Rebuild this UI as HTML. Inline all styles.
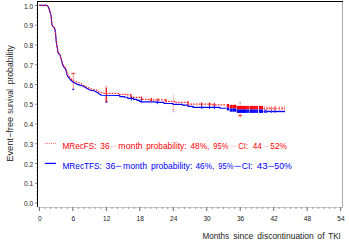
<!DOCTYPE html>
<html><head><meta charset="utf-8"><style>
html,body{margin:0;padding:0;background:#fff;}
svg{display:block}
text{font-family:"Liberation Sans",sans-serif;}
.ty{font-size:6.6px;fill:#222}
.tx{fill:#222}
.tyt{fill:#222}
</style></head><body>
<svg width="349" height="244" viewBox="0 0 349 244">
<line x1="37" y1="1.5" x2="343" y2="1.5" stroke="#000" stroke-width="1"/>
<line x1="37.5" y1="1" x2="37.5" y2="207" stroke="#000" stroke-width="1"/>
<line x1="342.5" y1="2" x2="342.5" y2="207.5" stroke="#aaa" stroke-width="1"/>
<line x1="38" y1="207.5" x2="343" y2="207.5" stroke="#c8c8c8" stroke-width="1"/>
<line x1="35" y1="203.00" x2="37" y2="203.00" stroke="#888" stroke-width="1"/>
<text x="33.2" y="206.10" text-anchor="end" class="ty">0.0</text>
<line x1="36" y1="199.05" x2="37" y2="199.05" stroke="#ccc" stroke-width="1"/>
<line x1="36" y1="195.10" x2="37" y2="195.10" stroke="#ccc" stroke-width="1"/>
<line x1="36" y1="191.15" x2="37" y2="191.15" stroke="#ccc" stroke-width="1"/>
<line x1="36" y1="187.20" x2="37" y2="187.20" stroke="#ccc" stroke-width="1"/>
<line x1="35" y1="183.25" x2="37" y2="183.25" stroke="#888" stroke-width="1"/>
<text x="33.2" y="186.35" text-anchor="end" class="ty">0.1</text>
<line x1="36" y1="179.30" x2="37" y2="179.30" stroke="#ccc" stroke-width="1"/>
<line x1="36" y1="175.35" x2="37" y2="175.35" stroke="#ccc" stroke-width="1"/>
<line x1="36" y1="171.40" x2="37" y2="171.40" stroke="#ccc" stroke-width="1"/>
<line x1="36" y1="167.45" x2="37" y2="167.45" stroke="#ccc" stroke-width="1"/>
<line x1="35" y1="163.50" x2="37" y2="163.50" stroke="#888" stroke-width="1"/>
<text x="33.2" y="166.60" text-anchor="end" class="ty">0.2</text>
<line x1="36" y1="159.55" x2="37" y2="159.55" stroke="#ccc" stroke-width="1"/>
<line x1="36" y1="155.60" x2="37" y2="155.60" stroke="#ccc" stroke-width="1"/>
<line x1="36" y1="151.65" x2="37" y2="151.65" stroke="#ccc" stroke-width="1"/>
<line x1="36" y1="147.70" x2="37" y2="147.70" stroke="#ccc" stroke-width="1"/>
<line x1="35" y1="143.75" x2="37" y2="143.75" stroke="#888" stroke-width="1"/>
<text x="33.2" y="146.85" text-anchor="end" class="ty">0.3</text>
<line x1="36" y1="139.80" x2="37" y2="139.80" stroke="#ccc" stroke-width="1"/>
<line x1="36" y1="135.85" x2="37" y2="135.85" stroke="#ccc" stroke-width="1"/>
<line x1="36" y1="131.90" x2="37" y2="131.90" stroke="#ccc" stroke-width="1"/>
<line x1="36" y1="127.95" x2="37" y2="127.95" stroke="#ccc" stroke-width="1"/>
<line x1="35" y1="124.00" x2="37" y2="124.00" stroke="#888" stroke-width="1"/>
<text x="33.2" y="127.10" text-anchor="end" class="ty">0.4</text>
<line x1="36" y1="120.05" x2="37" y2="120.05" stroke="#ccc" stroke-width="1"/>
<line x1="36" y1="116.10" x2="37" y2="116.10" stroke="#ccc" stroke-width="1"/>
<line x1="36" y1="112.15" x2="37" y2="112.15" stroke="#ccc" stroke-width="1"/>
<line x1="36" y1="108.20" x2="37" y2="108.20" stroke="#ccc" stroke-width="1"/>
<line x1="35" y1="104.25" x2="37" y2="104.25" stroke="#888" stroke-width="1"/>
<text x="33.2" y="107.35" text-anchor="end" class="ty">0.5</text>
<line x1="36" y1="100.30" x2="37" y2="100.30" stroke="#ccc" stroke-width="1"/>
<line x1="36" y1="96.35" x2="37" y2="96.35" stroke="#ccc" stroke-width="1"/>
<line x1="36" y1="92.40" x2="37" y2="92.40" stroke="#ccc" stroke-width="1"/>
<line x1="36" y1="88.45" x2="37" y2="88.45" stroke="#ccc" stroke-width="1"/>
<line x1="35" y1="84.50" x2="37" y2="84.50" stroke="#888" stroke-width="1"/>
<text x="33.2" y="87.60" text-anchor="end" class="ty">0.6</text>
<line x1="36" y1="80.55" x2="37" y2="80.55" stroke="#ccc" stroke-width="1"/>
<line x1="36" y1="76.60" x2="37" y2="76.60" stroke="#ccc" stroke-width="1"/>
<line x1="36" y1="72.65" x2="37" y2="72.65" stroke="#ccc" stroke-width="1"/>
<line x1="36" y1="68.70" x2="37" y2="68.70" stroke="#ccc" stroke-width="1"/>
<line x1="35" y1="64.75" x2="37" y2="64.75" stroke="#888" stroke-width="1"/>
<text x="33.2" y="67.85" text-anchor="end" class="ty">0.7</text>
<line x1="36" y1="60.80" x2="37" y2="60.80" stroke="#ccc" stroke-width="1"/>
<line x1="36" y1="56.85" x2="37" y2="56.85" stroke="#ccc" stroke-width="1"/>
<line x1="36" y1="52.90" x2="37" y2="52.90" stroke="#ccc" stroke-width="1"/>
<line x1="36" y1="48.95" x2="37" y2="48.95" stroke="#ccc" stroke-width="1"/>
<line x1="35" y1="45.00" x2="37" y2="45.00" stroke="#888" stroke-width="1"/>
<text x="33.2" y="48.10" text-anchor="end" class="ty">0.8</text>
<line x1="36" y1="41.05" x2="37" y2="41.05" stroke="#ccc" stroke-width="1"/>
<line x1="36" y1="37.10" x2="37" y2="37.10" stroke="#ccc" stroke-width="1"/>
<line x1="36" y1="33.15" x2="37" y2="33.15" stroke="#ccc" stroke-width="1"/>
<line x1="36" y1="29.20" x2="37" y2="29.20" stroke="#ccc" stroke-width="1"/>
<line x1="35" y1="25.25" x2="37" y2="25.25" stroke="#888" stroke-width="1"/>
<text x="33.2" y="28.35" text-anchor="end" class="ty">0.9</text>
<line x1="36" y1="21.30" x2="37" y2="21.30" stroke="#ccc" stroke-width="1"/>
<line x1="36" y1="17.35" x2="37" y2="17.35" stroke="#ccc" stroke-width="1"/>
<line x1="36" y1="13.40" x2="37" y2="13.40" stroke="#ccc" stroke-width="1"/>
<line x1="36" y1="9.45" x2="37" y2="9.45" stroke="#ccc" stroke-width="1"/>
<line x1="35" y1="5.50" x2="37" y2="5.50" stroke="#888" stroke-width="1"/>
<text x="33.2" y="8.60" text-anchor="end" class="ty">1.0</text>
<line x1="39.40" y1="207" x2="39.40" y2="211" stroke="#666" stroke-width="1"/>
<text x="39.80" y="220.6" text-anchor="middle" class="ty">0</text>
<line x1="44.98" y1="207" x2="44.98" y2="209" stroke="#999" stroke-width="1"/>
<line x1="50.56" y1="207" x2="50.56" y2="209" stroke="#999" stroke-width="1"/>
<line x1="56.13" y1="207" x2="56.13" y2="209" stroke="#999" stroke-width="1"/>
<line x1="61.71" y1="207" x2="61.71" y2="209" stroke="#999" stroke-width="1"/>
<line x1="67.29" y1="207" x2="67.29" y2="209" stroke="#999" stroke-width="1"/>
<line x1="72.87" y1="207" x2="72.87" y2="211" stroke="#666" stroke-width="1"/>
<text x="73.27" y="220.6" text-anchor="middle" class="ty">6</text>
<line x1="78.45" y1="207" x2="78.45" y2="209" stroke="#999" stroke-width="1"/>
<line x1="84.02" y1="207" x2="84.02" y2="209" stroke="#999" stroke-width="1"/>
<line x1="89.60" y1="207" x2="89.60" y2="209" stroke="#999" stroke-width="1"/>
<line x1="95.18" y1="207" x2="95.18" y2="209" stroke="#999" stroke-width="1"/>
<line x1="100.76" y1="207" x2="100.76" y2="209" stroke="#999" stroke-width="1"/>
<line x1="106.34" y1="207" x2="106.34" y2="211" stroke="#666" stroke-width="1"/>
<text x="106.74" y="220.6" text-anchor="middle" class="ty">12</text>
<line x1="111.91" y1="207" x2="111.91" y2="209" stroke="#999" stroke-width="1"/>
<line x1="117.49" y1="207" x2="117.49" y2="209" stroke="#999" stroke-width="1"/>
<line x1="123.07" y1="207" x2="123.07" y2="209" stroke="#999" stroke-width="1"/>
<line x1="128.65" y1="207" x2="128.65" y2="209" stroke="#999" stroke-width="1"/>
<line x1="134.23" y1="207" x2="134.23" y2="209" stroke="#999" stroke-width="1"/>
<line x1="139.80" y1="207" x2="139.80" y2="211" stroke="#666" stroke-width="1"/>
<text x="140.20" y="220.6" text-anchor="middle" class="ty">18</text>
<line x1="145.38" y1="207" x2="145.38" y2="209" stroke="#999" stroke-width="1"/>
<line x1="150.96" y1="207" x2="150.96" y2="209" stroke="#999" stroke-width="1"/>
<line x1="156.54" y1="207" x2="156.54" y2="209" stroke="#999" stroke-width="1"/>
<line x1="162.12" y1="207" x2="162.12" y2="209" stroke="#999" stroke-width="1"/>
<line x1="167.69" y1="207" x2="167.69" y2="209" stroke="#999" stroke-width="1"/>
<line x1="173.27" y1="207" x2="173.27" y2="211" stroke="#666" stroke-width="1"/>
<text x="173.67" y="220.6" text-anchor="middle" class="ty">24</text>
<line x1="178.85" y1="207" x2="178.85" y2="209" stroke="#999" stroke-width="1"/>
<line x1="184.43" y1="207" x2="184.43" y2="209" stroke="#999" stroke-width="1"/>
<line x1="190.01" y1="207" x2="190.01" y2="209" stroke="#999" stroke-width="1"/>
<line x1="195.58" y1="207" x2="195.58" y2="209" stroke="#999" stroke-width="1"/>
<line x1="201.16" y1="207" x2="201.16" y2="209" stroke="#999" stroke-width="1"/>
<line x1="206.74" y1="207" x2="206.74" y2="211" stroke="#666" stroke-width="1"/>
<text x="207.14" y="220.6" text-anchor="middle" class="ty">30</text>
<line x1="212.32" y1="207" x2="212.32" y2="209" stroke="#999" stroke-width="1"/>
<line x1="217.90" y1="207" x2="217.90" y2="209" stroke="#999" stroke-width="1"/>
<line x1="223.47" y1="207" x2="223.47" y2="209" stroke="#999" stroke-width="1"/>
<line x1="229.05" y1="207" x2="229.05" y2="209" stroke="#999" stroke-width="1"/>
<line x1="234.63" y1="207" x2="234.63" y2="209" stroke="#999" stroke-width="1"/>
<line x1="240.21" y1="207" x2="240.21" y2="211" stroke="#666" stroke-width="1"/>
<text x="240.61" y="220.6" text-anchor="middle" class="ty">36</text>
<line x1="245.79" y1="207" x2="245.79" y2="209" stroke="#999" stroke-width="1"/>
<line x1="251.36" y1="207" x2="251.36" y2="209" stroke="#999" stroke-width="1"/>
<line x1="256.94" y1="207" x2="256.94" y2="209" stroke="#999" stroke-width="1"/>
<line x1="262.52" y1="207" x2="262.52" y2="209" stroke="#999" stroke-width="1"/>
<line x1="268.10" y1="207" x2="268.10" y2="209" stroke="#999" stroke-width="1"/>
<line x1="273.68" y1="207" x2="273.68" y2="211" stroke="#666" stroke-width="1"/>
<text x="274.08" y="220.6" text-anchor="middle" class="ty">42</text>
<line x1="279.25" y1="207" x2="279.25" y2="209" stroke="#999" stroke-width="1"/>
<line x1="284.83" y1="207" x2="284.83" y2="209" stroke="#999" stroke-width="1"/>
<line x1="290.41" y1="207" x2="290.41" y2="209" stroke="#999" stroke-width="1"/>
<line x1="295.99" y1="207" x2="295.99" y2="209" stroke="#999" stroke-width="1"/>
<line x1="301.57" y1="207" x2="301.57" y2="209" stroke="#999" stroke-width="1"/>
<line x1="307.14" y1="207" x2="307.14" y2="211" stroke="#666" stroke-width="1"/>
<text x="307.54" y="220.6" text-anchor="middle" class="ty">48</text>
<line x1="312.72" y1="207" x2="312.72" y2="209" stroke="#999" stroke-width="1"/>
<line x1="318.30" y1="207" x2="318.30" y2="209" stroke="#999" stroke-width="1"/>
<line x1="323.88" y1="207" x2="323.88" y2="209" stroke="#999" stroke-width="1"/>
<line x1="329.46" y1="207" x2="329.46" y2="209" stroke="#999" stroke-width="1"/>
<line x1="335.03" y1="207" x2="335.03" y2="209" stroke="#999" stroke-width="1"/>
<line x1="340.61" y1="207" x2="340.61" y2="211" stroke="#666" stroke-width="1"/>
<text x="341.01" y="220.6" text-anchor="middle" class="ty">54</text>
<text x="202.54" y="238.9" class="tx" font-size="9.8" textLength="26.64" lengthAdjust="spacingAndGlyphs">Months</text>
<text x="233.28" y="238.9" class="tx" font-size="9.8" textLength="20.05" lengthAdjust="spacingAndGlyphs">since</text>
<text x="257.36" y="238.9" class="tx" font-size="9.8" textLength="56.34" lengthAdjust="spacingAndGlyphs">discontinuation</text>
<text x="317.35" y="238.9" class="tx" font-size="9.8" textLength="7.23" lengthAdjust="spacingAndGlyphs">of</text>
<text x="328.23" y="238.9" class="tx" font-size="9.8" textLength="12.61" lengthAdjust="spacingAndGlyphs">TKI</text>
<g transform="translate(12.7,0) rotate(-90)"><text x="-161.73" y="0" class="tyt" font-size="8.8" textLength="44.91" lengthAdjust="spacingAndGlyphs">Event−free</text><text x="-113.66" y="0" class="tyt" font-size="8.8" textLength="24.60" lengthAdjust="spacingAndGlyphs">survival</text><text x="-84.34" y="0" class="tyt" font-size="8.8" textLength="39.25" lengthAdjust="spacingAndGlyphs">probability</text></g>
<line x1="73.3" y1="73.4" x2="73.3" y2="89.4" stroke="#f88" stroke-width="1"/>
<line x1="71.3" y1="73.4" x2="75.2" y2="73.4" stroke="#f22" stroke-width="1"/>
<line x1="72.3" y1="89.4" x2="74.3" y2="89.4" stroke="#00f" stroke-width="1.2"/>
<line x1="106.3" y1="87.5" x2="106.3" y2="101.2" stroke="#f22" stroke-width="1.4"/>
<line x1="106.3" y1="86.4" x2="106.3" y2="87.5" stroke="#fbb" stroke-width="1.0"/>
<line x1="105.4" y1="86.4" x2="107.4" y2="86.4" stroke="#f99" stroke-width="1"/>
<line x1="105.1" y1="101.2" x2="107.6" y2="101.2" stroke="#f22" stroke-width="1.0"/>
<line x1="105.4" y1="102.2" x2="107.4" y2="102.2" stroke="#00f" stroke-width="1.0"/>
<line x1="173.4" y1="94.5" x2="173.4" y2="111.7" stroke="#fbb" stroke-width="1"/>
<line x1="172.4" y1="109.5" x2="174.4" y2="109.5" stroke="#f99" stroke-width="1"/>
<line x1="172.4" y1="111.7" x2="174.4" y2="111.7" stroke="#aaf" stroke-width="1"/>
<line x1="240.2" y1="101" x2="240.2" y2="118" stroke="#fbb" stroke-width="1"/>
<line x1="239.2" y1="103.3" x2="241.2" y2="103.3" stroke="#aaf" stroke-width="1"/>
<line x1="238.4" y1="115.5" x2="241.8" y2="115.5" stroke="#f22" stroke-width="1.2"/>
<polyline points="39.2,5.4 46.9,5.4 48.3,6.9 49.3,9.4 50.0,11.8 50.8,14.8 51.3,17.7 51.6,21.7 51.9,24.5 52.9,26.4 54.4,27.9 55.0,29.9 55.5,32.8 55.8,36.7 56.3,41.7 56.8,45.6 57.4,47.9 57.7,51.4 58.8,53.8 59.8,54.3 60.6,57.3 61.6,60.2 62.3,63.7 63.4,66.4 65.4,68.9 66.4,71.8 67.4,75.8 68.8,77.7 70.8,80.2 73.3,82.2 75.7,83.6 79.7,85.1 82.9,86.0 87.2,88.5 90.3,90.3 94.6,90.9 97.7,92.8 100.1,94.6 102.0,95.3 119.8,95.5 119.8,96.6 124.5,96.6 124.5,97.2 127.8,97.2 127.8,98.3 133.5,98.3 133.5,99.3 137.0,99.3 137.0,100.3 139.5,100.3 139.5,101.3 141.5,101.3 141.5,101.8 156.0,101.8 156.0,102.3 164.0,102.3 164.0,103.5 173.0,103.5 173.0,104.3 182.5,104.3 182.5,105.1 188.0,105.1 188.0,106.3 193.0,106.3 193.0,107.3 220.0,107.3 220.0,108.2 226.5,108.2" fill="none" stroke="#00f" stroke-width="1.15" stroke-linejoin="round"/>
<polyline points="39.2,5.4 46.9,5.4 48.3,6.9 49.3,9.4 50.0,11.8 50.8,14.8 51.3,17.7 51.6,21.7 51.9,24.5 52.9,26.4 54.4,27.9 55.0,29.9 55.5,32.8 55.8,36.7 56.3,41.7 56.8,45.6 57.4,47.9 57.7,51.4 58.8,53.8 59.8,54.3 60.6,57.3 61.6,60.2 62.3,63.2 63.6,65.6 65.6,67.9 66.6,70.8 67.6,74.4 69.0,76.4 71.0,78.8 73.3,80.8 77.7,82.4 80.5,83.3 86.6,87.0 92.8,89.5 97.7,90.3 98.9,92.1 103.8,93.3 119.5,93.3 119.5,94.3 126.0,94.3 126.0,94.9 131.5,94.9 131.5,97.3 141.5,97.3 141.5,99.3 150.0,99.3 150.0,99.9 166.0,99.9 166.0,101.3 174.5,101.3 174.5,102.4 188.0,102.4 188.0,104.1 213.0,104.1 213.0,104.8 226.5,104.8" fill="none" stroke="#f22" stroke-width="1.2" stroke-dasharray="1.6,1.2"/>
<rect x="226.8" y="104.0" width="2.4" height="3.5" fill="#f00"/>
<rect x="229.2" y="104.8" width="7.4" height="3.6" fill="#f00"/>
<rect x="236.6" y="105.9" width="26.4" height="3.6" fill="#f00"/>
<rect x="226.8" y="107.5" width="2.4" height="2.9" fill="#00f"/>
<rect x="229.2" y="108.4" width="7.4" height="3.3" fill="#00f"/>
<rect x="236.6" y="109.5" width="26.4" height="3.4" fill="#00f"/>
<rect x="229.2" y="103.8" width="0.9" height="9.2" fill="#fff" opacity="0.7"/>
<rect x="236.3" y="103.8" width="0.6" height="9.2" fill="#fff" opacity="0.6"/>
<rect x="246.6" y="103.8" width="0.6" height="9.2" fill="#fff" opacity="0.3"/>
<rect x="248.9" y="103.8" width="0.7" height="9.2" fill="#fff" opacity="0.8"/>
<rect x="252.8" y="103.8" width="0.6" height="9.2" fill="#fff" opacity="0.3"/>
<rect x="255.7" y="103.8" width="0.6" height="9.2" fill="#fff" opacity="0.35"/>
<rect x="257.9" y="103.8" width="1.1" height="9.2" fill="#fff" opacity="0.8"/>
<rect x="232.2" y="103.8" width="0.8" height="9.2" fill="#fff" opacity="0.3"/>
<line x1="263.5" y1="111.5" x2="285" y2="111.5" stroke="#00f" stroke-width="1.4"/>
<line x1="263.5" y1="108.3" x2="285" y2="108.3" stroke="#f33" stroke-width="1.2" stroke-dasharray="1.4,1.6"/>
<line x1="264.3" y1="106.4" x2="264.3" y2="110.2" stroke="#f66" stroke-width="0.9"/>
<line x1="266.9" y1="106.4" x2="266.9" y2="110.2" stroke="#f66" stroke-width="0.9"/>
<line x1="269.3" y1="106.4" x2="269.3" y2="110.2" stroke="#f66" stroke-width="0.9"/>
<line x1="271.5" y1="106.4" x2="271.5" y2="110.2" stroke="#f66" stroke-width="0.9"/>
<line x1="274.6" y1="106.4" x2="274.6" y2="110.2" stroke="#f66" stroke-width="0.9"/>
<line x1="275.5" y1="106.4" x2="275.5" y2="110.2" stroke="#f66" stroke-width="0.9"/>
<line x1="279.3" y1="106.4" x2="279.3" y2="110.2" stroke="#f66" stroke-width="0.9"/>
<line x1="281.9" y1="106.4" x2="281.9" y2="110.2" stroke="#f66" stroke-width="0.9"/>
<line x1="284.4" y1="106.4" x2="284.4" y2="110.2" stroke="#f66" stroke-width="0.9"/>
<line x1="264.6" y1="109.8" x2="264.6" y2="113" stroke="#33f" stroke-width="0.9"/>
<line x1="265.6" y1="109.8" x2="265.6" y2="113" stroke="#33f" stroke-width="0.9"/>
<line x1="266.6" y1="109.8" x2="266.6" y2="113" stroke="#33f" stroke-width="0.9"/>
<line x1="271.5" y1="109.8" x2="271.5" y2="113" stroke="#33f" stroke-width="0.9"/>
<line x1="275" y1="109.8" x2="275" y2="113" stroke="#33f" stroke-width="0.9"/>
<line x1="130.9" y1="94.3" x2="130.9" y2="97.89999999999999" stroke="#f00" stroke-width="0.9"/>
<line x1="141.4" y1="96.5" x2="141.4" y2="100.1" stroke="#f00" stroke-width="0.9"/>
<line x1="151.5" y1="97.9" x2="151.5" y2="101.5" stroke="#f00" stroke-width="0.9"/>
<line x1="157.9" y1="98.10000000000001" x2="157.9" y2="101.7" stroke="#f00" stroke-width="0.9"/>
<line x1="166" y1="98.8" x2="166" y2="102.39999999999999" stroke="#f00" stroke-width="0.9"/>
<line x1="188" y1="101.10000000000001" x2="188" y2="104.7" stroke="#f00" stroke-width="0.9"/>
<line x1="201.5" y1="102.3" x2="201.5" y2="105.89999999999999" stroke="#f00" stroke-width="0.9"/>
<line x1="209.5" y1="102.4" x2="209.5" y2="106.0" stroke="#f00" stroke-width="0.9"/>
<line x1="214.3" y1="102.8" x2="214.3" y2="106.39999999999999" stroke="#f00" stroke-width="0.9"/>
<line x1="131.4" y1="97.0" x2="131.4" y2="100.6" stroke="#00f" stroke-width="0.9"/>
<line x1="141.2" y1="99.2" x2="141.2" y2="102.8" stroke="#00f" stroke-width="0.9"/>
<line x1="157.4" y1="100.60000000000001" x2="157.4" y2="104.2" stroke="#00f" stroke-width="0.9"/>
<line x1="201.8" y1="105.5" x2="201.8" y2="109.1" stroke="#00f" stroke-width="0.9"/>
<line x1="209.5" y1="105.5" x2="209.5" y2="109.1" stroke="#00f" stroke-width="0.9"/>
<line x1="214.3" y1="105.60000000000001" x2="214.3" y2="109.2" stroke="#00f" stroke-width="0.9"/>
<line x1="44.9" y1="143.4" x2="56" y2="143.4" stroke="#f66" stroke-width="1" stroke-dasharray="1,1"/>
<line x1="44.9" y1="163.4" x2="56" y2="163.4" stroke="#00f" stroke-width="1.2"/>
<text x="62.57" y="149.2" fill="#f00" font-size="9" textLength="33.96" lengthAdjust="spacingAndGlyphs">MRecFS:</text>
<text x="100.32" y="149.2" fill="#f00" font-size="9" textLength="9.31" lengthAdjust="spacingAndGlyphs">36</text>
<text x="110.35" y="149.2" fill="#fbb" font-size="9" textLength="7.21" lengthAdjust="spacingAndGlyphs">−</text>
<text x="118.36" y="149.2" fill="#f00" font-size="9" textLength="24.39" lengthAdjust="spacingAndGlyphs">month</text>
<text x="146.19" y="149.2" fill="#f00" font-size="9" textLength="40.37" lengthAdjust="spacingAndGlyphs">probability:</text>
<text x="190.52" y="149.2" fill="#f00" font-size="9" textLength="18.83" lengthAdjust="spacingAndGlyphs">48%,</text>
<text x="213.37" y="149.2" fill="#f00" font-size="9" textLength="14.89" lengthAdjust="spacingAndGlyphs">95%</text>
<text x="230.14" y="149.2" fill="#fbb" font-size="9" textLength="7.32" lengthAdjust="spacingAndGlyphs">−</text>
<text x="238.31" y="149.2" fill="#f00" font-size="9" textLength="9.87" lengthAdjust="spacingAndGlyphs">CI:</text>
<text x="252.72" y="149.2" fill="#f00" font-size="9" textLength="9.22" lengthAdjust="spacingAndGlyphs">44</text>
<text x="263.01" y="149.2" fill="#fbb" font-size="9" textLength="6.38" lengthAdjust="spacingAndGlyphs">−</text>
<text x="270.28" y="149.2" fill="#f00" font-size="9" textLength="16.61" lengthAdjust="spacingAndGlyphs">52%</text>
<text x="62.46" y="168.9" fill="#00f" font-size="9" textLength="39.48" lengthAdjust="spacingAndGlyphs">MRecTFS:</text>
<text x="105.50" y="168.9" fill="#00f" font-size="9" textLength="9.85" lengthAdjust="spacingAndGlyphs">36</text>
<text x="115.31" y="168.9" fill="#00f" font-size="9" textLength="6.38" lengthAdjust="spacingAndGlyphs">−</text>
<text x="123.07" y="168.9" fill="#00f" font-size="9" textLength="23.97" lengthAdjust="spacingAndGlyphs">month</text>
<text x="150.88" y="168.9" fill="#00f" font-size="9" textLength="41.41" lengthAdjust="spacingAndGlyphs">probability:</text>
<text x="195.52" y="168.9" fill="#00f" font-size="9" textLength="18.83" lengthAdjust="spacingAndGlyphs">46%,</text>
<text x="218.37" y="168.9" fill="#00f" font-size="9" textLength="14.89" lengthAdjust="spacingAndGlyphs">95%</text>
<text x="233.61" y="168.9" fill="#00f" font-size="9" textLength="7.80" lengthAdjust="spacingAndGlyphs">−</text>
<text x="241.67" y="168.9" fill="#00f" font-size="9" textLength="11.11" lengthAdjust="spacingAndGlyphs">CI:</text>
<text x="256.78" y="168.9" fill="#00f" font-size="9" textLength="10.81" lengthAdjust="spacingAndGlyphs">43</text>
<text x="267.70" y="168.9" fill="#00f" font-size="9" textLength="6.61" lengthAdjust="spacingAndGlyphs">−</text>
<text x="274.36" y="168.9" fill="#00f" font-size="9" textLength="17.44" lengthAdjust="spacingAndGlyphs">50%</text>
</svg>
</body></html>
